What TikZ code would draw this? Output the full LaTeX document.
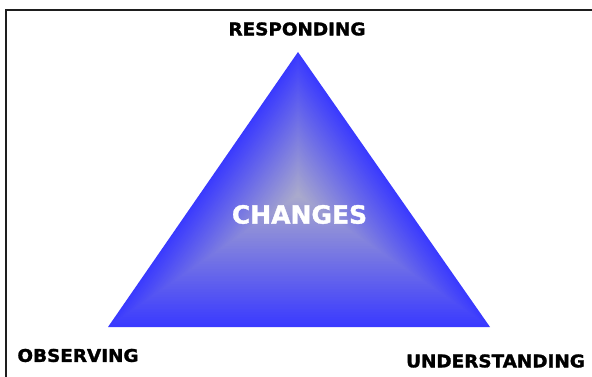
\documentclass[tikz,border=0pt]{standalone}
\usepackage{fontspec}
\usetikzlibrary{calc}
\newfontfamily\labelfont[FakeStretch=1.05,FakeBold=1.6]{DejaVu Sans}
\newfontfamily\centrefont[FakeBold=1.4]{DejaVu Sans}
\definecolor{edgeblue}{RGB}{58,58,255}
\definecolor{coregray}{RGB}{170,170,204}
\definecolor{framegray}{RGB}{30,30,30}
\tikzset{
  cornerlabel/.style={font=\labelfont\bfseries\fontsize{17.5}{19}\selectfont, text=black, inner sep=0pt, anchor=center},
  centrelabel/.style={font=\centrefont\bfseries\fontsize{25}{28}\selectfont, text=white, inner sep=0pt, anchor=center}
}
\begin{document}
\begin{tikzpicture}[x=1pt,y=-1pt]
  \useasboundingbox (0,0) rectangle (592,377);
  \begin{scope}
    \clip (0,0) rectangle (592,377);
    % outer frame (runs off the right and bottom edges)
    \draw[framegray, line width=2pt] (6,10) rectangle (620,400);
  \end{scope}

  % triangle corners and the centre of the path gradient
  \coordinate (apex) at (298,52);
  \coordinate (left) at (108,327);
  \coordinate (right) at (490,327);
  \coordinate (core) at (298,195);

  % path gradient: nested triangles shrinking towards the core
  \foreach \i in {0,...,79}{
    \pgfmathsetmacro\f{1-\i/80}
    \pgfmathsetmacro\p{100*\i/79}
    \fill[coregray!\p!edgeblue]
      ($(core)!\f!(apex)$) -- ($(core)!\f!(left)$) -- ($(core)!\f!(right)$) -- cycle;
  }

  \node[centrelabel] (changes) at (299.5,214.5) {CHANGES};
  \node[cornerlabel] (responding) at (297,29) {RESPONDING};
  \node[cornerlabel] (observing) at (78,355.5) {OBSERVING};
  \node[cornerlabel] (understanding) at (495.5,361) {UNDERSTANDING};
\end{tikzpicture}
\end{document}
